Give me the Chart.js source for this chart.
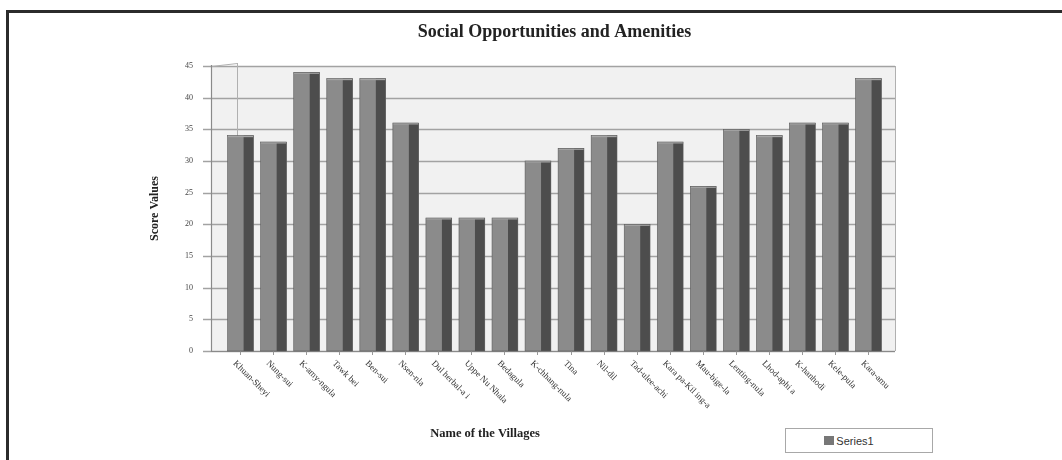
<!DOCTYPE html>
<html>
<head>
<meta charset="utf-8">
<script src="https://cdn.jsdelivr.net/npm/chart.js@4.4.1/dist/chart.umd.min.js"></script>
<style>
  body { margin: 0; background: #fff; }
  #wrap { position: relative; width: 1062px; height: 460px; overflow: hidden; }
  #frame { position: absolute; left: 6px; top: 10px; width: 1070px; height: 470px;
           border-top: 3px solid #2b2b2b; border-left: 3px solid #2b2b2b; pointer-events: none; }
  #legend { position: absolute; left: 785px; top: 428px; width: 146px; height: 23px;
            border: 1px solid #a8a8a8; background: #fff; color: #333;
            font: 11px "Liberation Sans", Arial, sans-serif;
            display: flex; align-items: center; justify-content: center; }
  #legend .inner { margin-right: 20px; display: flex; align-items: center; }
  #legend .swatch { display: inline-block; width: 10px; height: 9px; background: #777; margin-right: 2px; }
</style>
</head>
<body>
<div id="wrap">
  <canvas id="villageChart" width="1062" height="460"></canvas>
  <div id="frame"></div>
  <div id="legend"><div class="inner"></div></div>
</div>
<script>
const villages = [
  "Khuan-Sheyi", "Nung-sui", "K-amy-ngula", "Tawk bei", "Ben-sui",
  "Nsen-nla", "Dul herbal-a i", "Uppe Nu Nhala", "Bedagula", "K-chhang-nula",
  "Tina", "Nil-dil", "Tad-ulee-achi", "Kara pa-Kil ing-a", "Mau-bige-la",
  "Lenting-nula", "Lhod-aphi a", "K-hanhodi", "Kele-pula", "Kara-amu"
];
const scores = [34, 33, 44, 43, 43, 36, 21, 21, 21, 30, 32, 34, 20, 33, 26, 35, 34, 36, 36, 43];
const seriesName = "Series1";
const yMax = 45;
const yStep = 5;

const serif = "'Liberation Serif', 'Times New Roman', serif";

// back wall, grid lines and y tick marks, drawn before the bars
const wallPlugin = {
  id: "wall",
  beforeDraw(chart) {
    const { ctx, chartArea, scales } = chart;
    const y = scales.y;
    const left = chartArea.left - 13;
    const right = chartArea.right + 10;
    ctx.save();
    ctx.fillStyle = "#f1f1f1";
    ctx.fillRect(left, chartArea.top, right - left, chartArea.bottom - chartArea.top);

    ctx.strokeStyle = "#a2a2a2";
    ctx.lineWidth = 1.6;
    y.ticks.forEach((t) => {
      const py = Math.round(y.getPixelForValue(t.value)) + 0.5;
      ctx.beginPath();
      ctx.moveTo(left - 8, py);
      ctx.lineTo(right, py);
      ctx.stroke();
    });

    ctx.lineWidth = 1;
    ctx.strokeStyle = "#b0b0b0";
    ctx.beginPath();
    ctx.moveTo(right + 0.5, chartArea.top);
    ctx.lineTo(right + 0.5, chartArea.bottom);
    ctx.moveTo(left + 26.5, chartArea.top - 3);
    ctx.lineTo(left + 26.5, chartArea.bottom);
    ctx.moveTo(left, chartArea.top + 0.5);
    ctx.lineTo(left + 26.5, chartArea.top - 2.5);
    ctx.stroke();

    ctx.strokeStyle = "#8a8a8a";
    ctx.lineWidth = 1.2;
    ctx.beginPath();
    ctx.moveTo(left + 0.5, chartArea.top - 1);
    ctx.lineTo(left + 0.5, chartArea.bottom + 1);
    ctx.moveTo(left, chartArea.bottom + 0.5);
    ctx.lineTo(right, chartArea.bottom + 0.5);
    ctx.stroke();
    ctx.restore();
  },
  // shaded side of each column
  afterDatasetsDraw(chart) {
    const { ctx } = chart;
    const meta = chart.getDatasetMeta(0);
    ctx.save();
    meta.data.forEach((bar) => {
      const { x, y, base, width } = bar.getProps(["x", "y", "base", "width"], true);
      const x0 = x - width / 2;
      const split = x0 + width * 0.62;
      ctx.fillStyle = "#4d4d4d";
      ctx.fillRect(split, y, x0 + width - split, base - y);
      ctx.fillStyle = "#a6a6a6";
      ctx.fillRect(x0, y, width, 1.5);
      ctx.strokeStyle = "#5a5a5a";
      ctx.lineWidth = 0.6;
      ctx.strokeRect(x0, y, width, base - y);
    });
    ctx.restore();
  },
  // slanted category labels and the x axis title
  afterDraw(chart) {
    const { ctx, chartArea, scales } = chart;
    const x = scales.x;
    ctx.save();
    ctx.fillStyle = "#333";
    ctx.font = "9px " + serif;
    ctx.textAlign = "left";
    ctx.textBaseline = "middle";
    villages.forEach((name, i) => {
      const px = x.getPixelForTick(i);
      ctx.save();
      ctx.translate(px - 6, chartArea.bottom + 11);
      ctx.rotate(Math.PI / 4);
      ctx.fillText(name, 0, 0);
      ctx.restore();
    });
    ctx.font = "bold 12.5px " + serif;
    ctx.textAlign = "center";
    ctx.fillStyle = "#222";
    ctx.fillText("Name of the Villages", 485, 434);
    ctx.restore();
  }
};

const chart = new Chart(document.getElementById("villageChart"), {
  type: "bar",
  data: {
    labels: villages,
    datasets: [{
      label: seriesName,
      data: scores,
      backgroundColor: "#8b8b8b",
      borderWidth: 0,
      barPercentage: 0.78,
      categoryPercentage: 1
    }]
  },
  options: {
    responsive: false,
    animation: false,
    layout: { padding: { left: 0, right: 177, top: 0, bottom: 0 } },
    plugins: {
      legend: { display: false },
      tooltip: { enabled: false },
      title: {
        display: true,
        fullSize: false,
        text: "Social Opportunities and Amenities",
        color: "#222",
        font: { family: serif, size: 18, weight: "bold", lineHeight: 1 },
        padding: { top: 23, bottom: 25 }
      }
    },
    scales: {
      x: {
        afterFit(scale) { scale.height = 109; },
        ticks: { display: false },
        grid: { display: true, drawOnChartArea: false, offset: false, tickLength: 4, color: "#999" },
        border: { display: false }
      },
      y: {
        min: 0,
        max: yMax,
        afterFit(scale) { scale.width = 224; },
        ticks: { stepSize: yStep, padding: 23, color: "#444", font: { family: serif, size: 8 } },
        grid: { display: false },
        border: { display: false },
        title: {
          display: true,
          text: "Score Values",
          color: "#222",
          font: { family: serif, size: 12, weight: "bold" },
          padding: { top: 148 }
        }
      }
    }
  },
  plugins: [wallPlugin]
});

// legend box built from the dataset
const legendInner = document.querySelector("#legend .inner");
chart.data.datasets.forEach((ds) => {
  const sw = document.createElement("span");
  sw.className = "swatch";
  legendInner.appendChild(sw);
  legendInner.appendChild(document.createTextNode(ds.label));
});
</script>
</body>
</html>
